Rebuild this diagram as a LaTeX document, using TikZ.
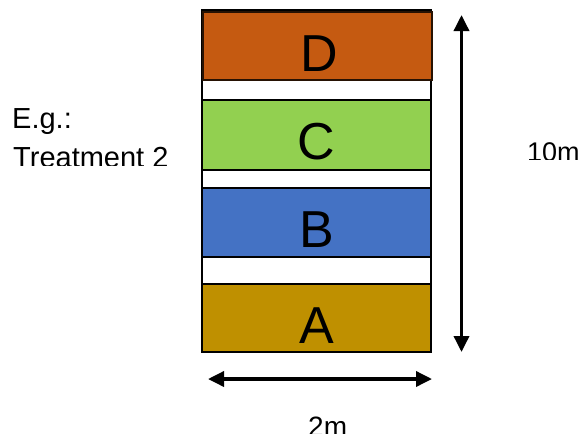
\documentclass[tikz,border=0pt]{standalone}
\usepackage{fontspec}
\setmainfont{Liberation Sans}
\usetikzlibrary{arrows.meta}
\definecolor{colD}{HTML}{C55A11}
\definecolor{colC}{HTML}{92D050}
\definecolor{colB}{HTML}{4472C4}
\definecolor{colA}{HTML}{BF9000}
\tikzset{
  strip/.style={draw=black, line width=1.2pt, minimum width=229pt, inner sep=0pt, outer sep=0pt},
  stripletter/.style={anchor=base, inner sep=0pt, font=\fontsize{52}{52}\selectfont},
  sidetext/.style={anchor=base west, inner sep=0pt, font=\fontsize{29}{29}\selectfont},
  dimarrow/.style={line width=3.5pt, {Triangle[length=16pt,width=15pt]}-{Triangle[length=16pt,width=15pt]}}
}
\begin{document}
\begin{tikzpicture}[x=1pt,y=-1pt]
\useasboundingbox (0,0) rectangle (583,437);
% outer frame with white gaps
\node[strip, fill=white, minimum height=342pt] (frame) at (316.5,181) {};
% strips
\node[strip, fill=colD, draw=black!80!colD, line width=1.6pt, minimum height=68pt] (D) at (317.5,46) {};
\node[strip, fill=colC, minimum height=70pt] (C) at (316.5,135) {};
\node[strip, fill=colB, minimum height=69pt] (B) at (316.5,222.5) {};
\node[strip, fill=colA, minimum height=68pt] (A) at (316.5,318) {};
% letters
\node[stripletter] (lD) at (319,71) {D};
\node[stripletter] (lC) at (316.5,159) {C};
\node[stripletter] (lB) at (316.5,247) {B};
\node[stripletter] (lA) at (316.5,343) {A};
% left text
\begin{scope}
\clip (0,0) rectangle (200,165.5);
\node[sidetext] (eg) at (12,128) {E.g.:};
\node[sidetext] (treat) at (13,167) {Treatment 2};
\end{scope}
% dimensions
\coordinate (vtop) at (461.5,15);
\coordinate (vbot) at (461.5,352);
\draw[dimarrow] (vtop) -- (vbot);
\coordinate (hl) at (208,379);
\coordinate (hr) at (432,379);
\draw[dimarrow] (hl) -- (hr);
\begin{scope}
\clip (480,0) rectangle (583,159.5);
\node[sidetext, font=\fontsize{27}{27}\selectfont] (ten) at (527,161) {10m};
\end{scope}
\begin{scope}
\clip (250,380) rectangle (400,433.5);
\node[sidetext, font=\fontsize{28}{28}\selectfont] (two) at (308,436) {2m};
\end{scope}
\end{tikzpicture}
\end{document}
